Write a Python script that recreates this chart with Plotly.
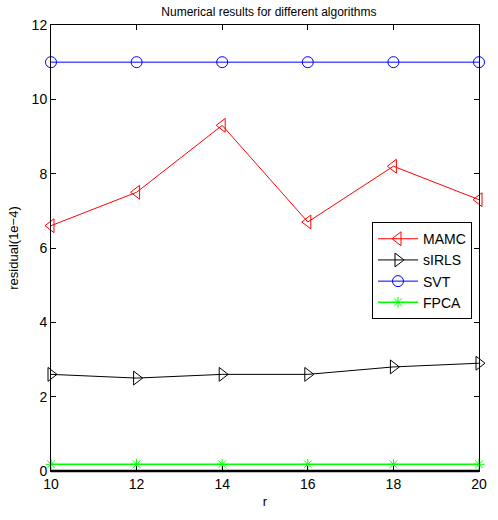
import plotly.graph_objects as go

r = [10, 12, 14, 16, 18, 20]
mamc = [6.6, 7.5, 9.3, 6.7, 8.2, 7.3]
sirls = [2.6, 2.5, 2.6, 2.6, 2.8, 2.9]
svt = [11, 11, 11, 11, 11, 11]
fpca = [0.18, 0.18, 0.18, 0.18, 0.18, 0.18]

series = [
    ("MAMC", mamc, "#ff0000", "triangle-left-open", 12, 1),
    ("sIRLS", sirls, "#000000", "triangle-right-open", 12, 1),
    ("SVT", svt, "#0000ff", "circle-open", 11, 1),
    ("FPCA", fpca, "#00ff00", "asterisk-open", 9, 1.5),
]

fig = go.Figure()
for name, vals, color, sym, size, lw in series:
    fig.add_trace(go.Scatter(
        x=r, y=vals, name=name, mode="lines+markers",
        line=dict(color=color, width=lw),
        marker=dict(symbol=sym, size=size, color=color, line=dict(color=color, width=1)),
        cliponaxis=False,
    ))

font = "Liberation Sans, Arial, sans-serif"
axis_common = dict(
    showgrid=False, zeroline=False, showline=True, linecolor="black", linewidth=1,
    mirror="ticks", ticks="inside", ticklen=5, tickcolor="black",
    tickfont=dict(family=font, size=14, color="black"),
)

fig.update_layout(
    width=498, height=520,
    margin=dict(l=51, r=11, t=25, b=49),
    paper_bgcolor="white", plot_bgcolor="white",
    title=dict(text="Numerical results for different algorithms", x=0.54, xanchor="center",
               y=0.985, yanchor="top", font=dict(family=font, size=12, color="black")),
    xaxis=dict(range=[10, 20], tickvals=[10, 12, 14, 16, 18, 20],
               title=dict(text="r", font=dict(family=font, size=13, color="black"), standoff=6),
               **axis_common),
    yaxis=dict(range=[0, 12], tickvals=[0, 2, 4, 6, 8, 10, 12],
               title=dict(text="residual(1e\u22124)", font=dict(family=font, size=13, color="black"), standoff=10),
               **axis_common),
    showlegend=True,
    legend=dict(x=0.75, y=0.558, xanchor="left", yanchor="top",
                bgcolor="white", bordercolor="black", borderwidth=1,
                font=dict(family=font, size=14, color="black"),
                tracegroupgap=0, itemwidth=40),
)

# heavier bottom axis line
fig.add_shape(type="line", xref="paper", yref="paper", x0=0, x1=1, y0=0, y1=0,
              line=dict(color="black", width=2.5), layer="above")

fig.write_html("out.html")
